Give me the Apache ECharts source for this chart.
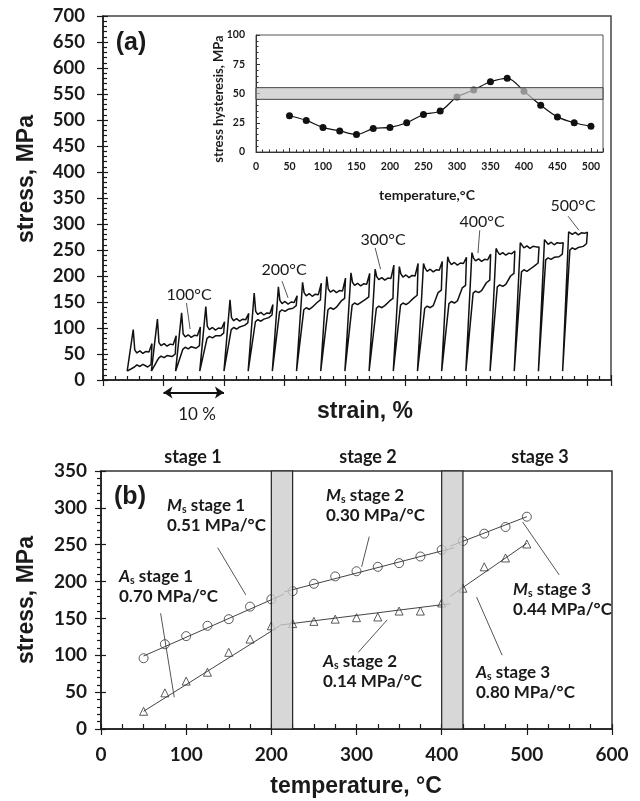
<!DOCTYPE html>
<html>
<head>
<meta charset="utf-8">
<script src="https://cdn.jsdelivr.net/npm/echarts@6/dist/echarts.min.js"></script>
<style>
  html, body { margin: 0; padding: 0; background: #fff; }
  #chart { width: 640px; height: 801px; }
</style>
</head>
<body>
<div id="chart"></div>
<script>
// ---- panel (a): one stress-strain loop per test temperature (50..500 C) ----
const loopStart      = [4, 8, 12, 16, 20, 24, 28, 32, 36, 40, 44, 48, 52, 56, 60, 64, 68, 72, 76];
const loopPeak       = [97, 117, 129, 141, 154, 167, 179, 188, 199, 206, 213, 218, 224, 237, 245, 253, 264, 270, 285];
const loopUpper      = [51, 65, 82, 96, 113, 125, 146, 161, 168, 181, 192, 197, 208, 221, 228, 240, 253, 260, 279];
const loopEnd        = [70, 85, 102, 112, 128, 145, 162, 186, 196, 205, 221, 224, 228, 236, 242, 248, 256, 264, 284];
const loopLowerLeft  = [25, 42, 59, 80, 97, 112, 131, 135, 135, 144, 138, 144, 138, 147, 167, 179, 208, 231, 250];
const loopLowerRight = [30, 50, 66, 90, 110, 125, 143, 154, 157, 160, 157, 163, 173, 182, 192, 205, 225, 242, 262];
const loopBase = 17;

// ---- inset: stress hysteresis vs temperature ----
const insetTemps = [50, 75, 100, 125, 150, 175, 200, 225, 250, 275, 300, 325, 350, 375, 400, 425, 450, 475, 500];
const hysteresis = [31, 27, 21, 18, 15, 20, 21, 25, 32, 35, 47, 53, 60, 63, 52, 40, 30, 25, 22];
const hysteresisBand = [45, 55];

// ---- panel (b): Ms / As stress vs temperature ----
const temps    = [50, 75, 100, 125, 150, 175, 200, 225, 250, 275, 300, 325, 350, 375, 400, 425, 450, 475, 500];
const msStress = [96, 115, 126, 140, 149, 166, 176, 187, 197, 207, 214, 220, 225, 234, 243, 255, 265, 274, 288];
const asStress = [24, 49, 65, 77, 104, 122, 140, 143, 146, 149, 151, 152, 160, 160, 171, 191, 220, 232, 251];
// linear fits per stage (end points)
const msFit1 = [[50, 99], [215, 183]];
const msFit2 = [[215, 186], [415, 246]];
const msFit3 = [[410, 248], [500, 288]];
const asFit1 = [[50, 24], [210, 140]];
const asFit2 = [[210, 141], [410, 170]];
const asFit3 = [[410, 180], [500, 252]];
const stageBands = [[200, 225], [400, 425]];

// leader lines (data coordinates)
const leadersA = [
  [[13.8, 148], [14.4, 98]], [[29.6, 190], [30.6, 158]], [[45, 254], [45.9, 213]],
  [[62.3, 288], [62, 244]], [[76.9, 315], [78.7, 288]]
];
const leadersB = [
  [[137, 246], [170, 182]], [[315, 261], [306, 220]], [[70, 157], [86, 43]],
  [[495, 281], [538, 209]], [[302, 104], [336, 148]], [[441, 179], [471, 100]]
];

const TICK_FONT = 'Lato';
const TITLE_FONT = 'Liberation Sans';
const ink = '#1a1a1a';

function loopPoints(i) {
  const s = loopStart[i], p = loopPeak[i], u = loopUpper[i], e = loopEnd[i];
  const lo = loopLowerLeft[i], lr = loopLowerRight[i];
  return [
    [s, loopBase], [s + 1.0, p], [s + 1.25, u + 7], [s + 1.6, u + 1], [s + 2.1, u + 5],
    [s + 2.6, u], [s + 3.1, u + 4], [s + 3.6, u + 3], [s + 4.1, e],
    [s + 3.95, lr], [s + 3.4, lr - 5], [s + 2.6, lo + 5], [s + 2.1, lo + 1], [s + 1.6, lo + 4],
    [s + 1.2, lo], [s, loopBase]
  ];
}

const tickLine = { color: ink, width: 1.2 };

function axis(o) {
  const a = {
    type: 'value',
    splitLine: { show: false },
    axisLine: { show: true, onZero: false, lineStyle: { color: ink, width: 1.5 } },
    axisTick: { show: true, inside: true, length: 5, lineStyle: tickLine },
    minorTick: { show: false },
    axisLabel: { show: false }
  };
  return Object.assign(a, o);
}

function label(size, margin) {
  return { show: true, fontFamily: TICK_FONT, fontWeight: 'bold', fontSize: size, color: ink, margin: margin, showMaxLabel: true };
}

const xAxis = [
  // (a) strain
  axis({ gridIndex: 0, position: 'bottom', min: 0, max: 84, interval: 10,
         minorTick: { show: true, splitNumber: 5, length: 4, lineStyle: tickLine } }),
  axis({ gridIndex: 0, position: 'bottom', min: 0, max: 84, interval: 10,
         axisLine: { show: false, onZero: false }, axisTick: { show: true, inside: false, length: 6, lineStyle: tickLine } }),
  // inset temperature
  axis({ gridIndex: 1, position: 'bottom', min: 0, max: 518, interval: 50,
         axisLine: { show: true, onZero: false, lineStyle: { color: '#333', width: 1 } },
         axisTick: { show: true, inside: true, length: 4, lineStyle: { color: '#333', width: 1 } },
         minorTick: { show: true, splitNumber: 5, length: 2.5, lineStyle: { color: '#333', width: 1 } },
         axisLabel: Object.assign(label(10.5, 9), { showMaxLabel: false }) }),
  // (b) temperature
  axis({ gridIndex: 2, position: 'bottom', min: 0, max: 600, interval: 100,
         minorTick: { show: true, splitNumber: 4, length: 5, lineStyle: tickLine },
         axisTick: { show: true, inside: true, length: 5, lineStyle: tickLine },
         axisLabel: label(19, 16) }),
  axis({ gridIndex: 2, position: 'bottom', min: 0, max: 600, interval: 100,
         axisLine: { show: false, onZero: false }, axisTick: { show: true, inside: false, length: 6, lineStyle: tickLine } })
];

const yAxis = [
  // (a) stress
  axis({ gridIndex: 0, position: 'left', min: 0, max: 700, interval: 50,
         minorTick: { show: true, splitNumber: 5, length: 4, lineStyle: tickLine },
         axisLabel: label(18.5, 18) }),
  axis({ gridIndex: 0, position: 'left', min: 0, max: 700, interval: 50,
         axisLine: { show: false, onZero: false }, axisTick: { show: true, inside: false, length: 6, lineStyle: tickLine } }),
  // inset hysteresis
  axis({ gridIndex: 1, position: 'left', min: 0, max: 100, interval: 25,
         axisLine: { show: true, onZero: false, lineStyle: { color: '#333', width: 1 } },
         axisTick: { show: true, inside: true, length: 4, lineStyle: { color: '#333', width: 1 } },
         minorTick: { show: true, splitNumber: 5, length: 2.5, lineStyle: { color: '#333', width: 1 } },
         axisLabel: label(10.5, 11) }),
  // (b) stress
  axis({ gridIndex: 2, position: 'left', min: 0, max: 350, interval: 50,
         axisTick: { show: true, inside: true, length: 5, lineStyle: tickLine },
         axisLabel: label(19, 14) }),
  axis({ gridIndex: 2, position: 'left', min: 0, max: 350, interval: 50,
         axisLine: { show: false, onZero: false }, axisTick: { show: true, inside: false, length: 6, lineStyle: tickLine },
         minorTick: { show: true, splitNumber: 5, length: 4, lineStyle: tickLine } })
];

const series = [];

loopStart.forEach(function (s, i) {
  series.push({
    type: 'line', xAxisIndex: 0, yAxisIndex: 0, data: loopPoints(i),
    symbol: 'none', lineStyle: { color: '#111', width: 1.5 }, z: 2
  });
});

// 10 % scale arrow under the strain axis
series.push({
  type: 'lines', coordinateSystem: 'cartesian2d', xAxisIndex: 0, yAxisIndex: 0, clip: false,
  symbol: ['arrow', 'arrow'], symbolSize: 9,
  lineStyle: { color: '#111', width: 2, opacity: 1 },
  data: [{ coords: [[10, -24], [20, -24]] }]
});

series.push({
  type: 'lines', coordinateSystem: 'cartesian2d', xAxisIndex: 0, yAxisIndex: 0,
  lineStyle: { color: '#555', width: 1, opacity: 1 },
  data: leadersA.map(function (c) { return { coords: c }; })
});

// inset
series.push({
  type: 'line', xAxisIndex: 2, yAxisIndex: 2,
  data: insetTemps.map(function (t, i) { return [t, hysteresis[i]]; }),
  smooth: 0.35, symbol: 'circle', symbolSize: 7,
  itemStyle: { color: '#111' }, lineStyle: { color: '#111', width: 1.2 }, z: 3,
  markArea: {
    silent: true, z: 6,
    itemStyle: { color: 'rgba(200,200,200,0.72)', borderColor: '#444', borderWidth: 1 },
    data: [[{ yAxis: hysteresisBand[0] }, { yAxis: hysteresisBand[1] }]]
  }
});

// (b) fits
[msFit1, msFit2, msFit3, asFit1, asFit2, asFit3].forEach(function (f) {
  series.push({
    type: 'line', xAxisIndex: 3, yAxisIndex: 3, data: f, symbol: 'none',
    lineStyle: { color: '#444', width: 1 }, z: 2
  });
});

series.push({
  type: 'scatter', xAxisIndex: 3, yAxisIndex: 3, symbol: 'circle', symbolSize: 9,
  data: temps.map(function (t, i) { return [t, msStress[i]]; }),
  itemStyle: { color: 'rgba(255,255,255,0)', borderColor: '#333', borderWidth: 1 }, z: 3,
  markArea: {
    silent: true, z: 6,
    itemStyle: { color: 'rgba(205,205,205,0.8)', borderColor: '#222', borderWidth: 1.2 },
    data: stageBands.map(function (b) { return [{ xAxis: b[0] }, { xAxis: b[1] }]; })
  }
});

series.push({
  type: 'scatter', xAxisIndex: 3, yAxisIndex: 3, symbol: 'triangle', symbolSize: 8,
  data: temps.map(function (t, i) { return [t, asStress[i]]; }),
  itemStyle: { color: 'rgba(255,255,255,0)', borderColor: '#333', borderWidth: 1 }, z: 3
});

series.push({
  type: 'lines', coordinateSystem: 'cartesian2d', xAxisIndex: 3, yAxisIndex: 3,
  lineStyle: { color: '#555', width: 1, opacity: 1 },
  data: leadersB.map(function (c) { return { coords: c }; })
});

// ---- texts ----
function txt(x, y, text, size, opts) {
  return {
    type: 'text', x: x, y: y, z: 100, rotation: (opts && opts.rot) || 0,
    style: Object.assign({
      text: text, fill: ink, fontSize: size, fontFamily: TICK_FONT, fontWeight: 'normal',
      align: 'center', verticalAlign: 'middle'
    }, (opts && opts.style) || {})
  };
}
const boldTitle = { fontFamily: TITLE_FONT, fontWeight: 'bold' };
const boldTick = { fontFamily: TICK_FONT, fontWeight: 'bold' };
const richSub = {
  i: { fontFamily: TICK_FONT, fontWeight: 'bold', fontStyle: 'italic', fontSize: 17, fill: ink },
  s: { fontFamily: TICK_FONT, fontWeight: 'bold', fontSize: 10.5, fill: ink, padding: [7, 0, 0, 0] },
  n: { fontFamily: TICK_FONT, fontWeight: 'bold', fontSize: 17, fill: ink }
};
function stageLabel(x, y, sym, stage, slope) {
  return [
    txt(x, y, '{i|' + sym + '}{s|s}{n| stage ' + stage + '}', 17, { style: { align: 'left', rich: richSub } }),
    txt(x, y + 20, slope + ' MPa/°C', 17, { style: Object.assign({ align: 'left' }, boldTick) })
  ];
}

const graphic = [
  txt(131, 43, '(a)', 25, { style: boldTitle }),
  txt(27, 179, 'stress, MPa', 23, { rot: Math.PI / 2, style: boldTitle }),
  txt(365, 412, 'strain, %', 23, { style: boldTitle }),
  txt(197, 415, '10 %', 17),
  txt(219, 99, 'stress hysteresis, MPa', 13, { rot: Math.PI / 2, style: boldTick }),
  txt(427, 195, 'temperature,°C', 14, { style: boldTick }),
  txt(189, 295, '100°C', 16),
  txt(284, 270, '200°C', 16),
  txt(383, 240, '300°C', 16),
  txt(482, 222, '400°C', 16),
  txt(573, 206, '500°C', 16),
  txt(193, 457, 'stage 1', 18, { style: boldTick }),
  txt(368, 457, 'stage 2', 18, { style: boldTick }),
  txt(540, 457, 'stage 3', 18, { style: boldTick }),
  txt(130, 497, '(b)', 25, { style: boldTitle }),
  txt(27, 600, 'stress, MPa', 23, { rot: Math.PI / 2, style: boldTitle }),
  txt(356, 787, 'temperature, °C', 23, { style: boldTitle })
].concat(
  stageLabel(167, 506, 'M', 1, '0.51'),
  stageLabel(326, 496, 'M', 2, '0.30'),
  stageLabel(119, 577, 'A', 1, '0.70'),
  stageLabel(513, 590, 'M', 3, '0.44'),
  stageLabel(323, 662, 'A', 2, '0.14'),
  stageLabel(476, 673, 'A', 3, '0.80')
);

const chart = echarts.init(document.getElementById('chart'), null, { renderer: 'canvas' });
chart.setOption({
  animation: false,
  backgroundColor: '#fff',
  grid: [
    { left: 103, top: 16, width: 508, height: 364, show: true, borderColor: '#444', borderWidth: 1.5, backgroundColor: 'transparent', containLabel: false },
    { left: 256, top: 35, width: 347, height: 117, show: true, borderColor: '#555', borderWidth: 1, backgroundColor: '#fff', containLabel: false },
    { left: 101, top: 471, width: 511, height: 258, show: true, borderColor: '#333', borderWidth: 1.5, backgroundColor: 'transparent', containLabel: false }
  ],
  xAxis: xAxis,
  yAxis: yAxis,
  series: series,
  graphic: graphic
});
</script>
</body>
</html>
